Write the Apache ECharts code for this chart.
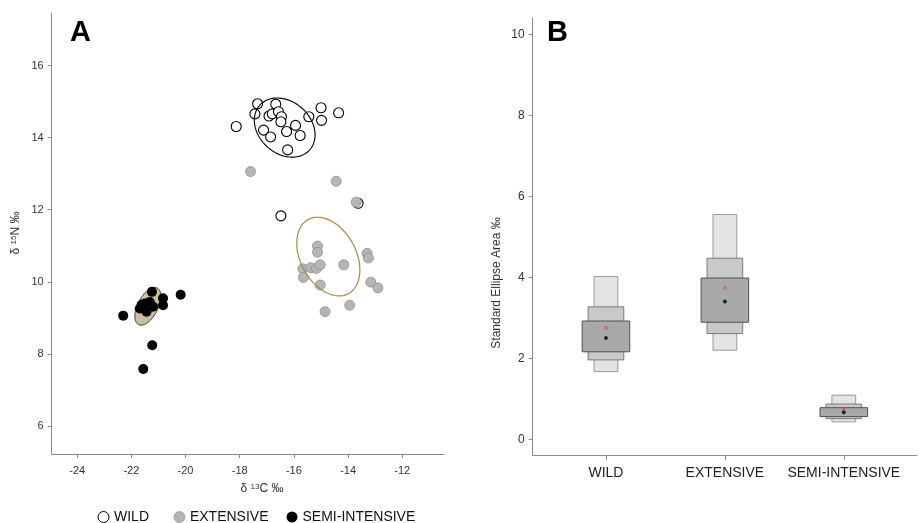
<!DOCTYPE html>
<html>
<head>
<meta charset="utf-8">
<script src="https://cdn.jsdelivr.net/npm/echarts@6/dist/echarts.min.js"></script>
<style>
html,body{margin:0;padding:0;background:#fff;}
#chart{width:919px;height:523px;}
</style>
</head>
<body>
<div id="chart"></div>
<script>
// ---------- Panel A data (δ13C, δ15N) ----------
var wildC = [-18.13,-17.34,-17.44,-16.92,-16.80,-16.67,-16.57,-16.46,-16.48,-17.12,-16.86,-16.27,-15.94,-15.77,-16.23,-15.45,-15.00,-14.98,-14.35,-16.48,-13.63];
var wildN = [14.31,14.94,14.66,14.60,14.66,14.93,14.72,14.58,14.44,14.21,14.02,14.17,14.34,14.06,13.66,14.58,14.83,14.48,14.69,11.83,12.18];
var extC  = [-17.60,-14.44,-13.70,-15.13,-15.13,-15.67,-15.65,-15.38,-15.17,-15.03,-14.16,-15.03,-14.85,-13.94,-13.30,-13.25,-13.16,-12.90];
var extN  = [13.06,12.79,12.21,10.99,10.82,10.36,10.12,10.39,10.37,10.47,10.47,9.91,9.17,9.35,10.79,10.66,9.99,9.83];
var semiC = [-22.30,-21.24,-20.18,-21.23,-21.56,-21.69,-21.50,-21.32,-21.44,-21.20,-20.83,-20.83,-21.62,-21.40];
var semiN = [9.06,9.72,9.64,8.24,7.58,9.26,9.40,9.44,9.17,9.31,9.54,9.35,9.36,9.30];
// standard ellipses: [mean C, mean N, var C, cov CN, var N]
var wildEllipse = [-16.34, 14.28, 1.257, -0.228, 0.674];
var extEllipse  = [-14.73, 10.70, 1.356, -0.434, 1.192];
var semiEllipse = [-21.39, 9.32, 0.231, 0.132, 0.274];
var xTicksA = [-24,-22,-20,-18,-16,-14,-12];
var yTicksA = [6,8,10,12,14,16];

// ---------- Panel B data (SEA credible intervals) ----------
var groups = ['WILD','EXTENSIVE','SEMI-INTENSIVE'];
var ci95Low  = [1.67, 2.20, 0.43];
var ci95High = [4.02, 5.55, 1.09];
var ci75Low  = [1.96, 2.61, 0.51];
var ci75High = [3.27, 4.47, 0.87];
var ci50Low  = [2.16, 2.89, 0.56];
var ci50High = [2.92, 3.98, 0.78];
var seaMode  = [2.50, 3.40, 0.67];
var seaC     = [2.75, 3.74, 0.74];
var yTicksB  = [0,2,4,6,8,10];

var FONT = 'Liberation Sans, Arial, sans-serif';
var AXIS_COLOR = '#8a8a8a';

function zip(a,b){ return a.map(function(v,i){ return [v,b[i]]; }); }

function ellipseRender(fill, stroke, lw){
  return function(params, api){
    var cx = api.value(0), cy = api.value(1), sxx = api.value(2), sxy = api.value(3), syy = api.value(4);
    var l11 = Math.sqrt(sxx), l21 = sxy / l11, l22 = Math.sqrt(syy - l21*l21);
    var pts = [];
    for (var k = 0; k < 120; k++){
      var t = k / 120 * Math.PI * 2;
      var c = Math.cos(t), s = Math.sin(t);
      pts.push(api.coord([cx + l11*c, cy + l21*c + l22*s]));
    }
    return {type:'polygon', shape:{points:pts}, style:{fill:fill, stroke:stroke, lineWidth:lw}};
  };
}

var boxData = groups.map(function(g,i){
  return [i+1, ci95Low[i], ci95High[i], ci75Low[i], ci75High[i], ci50Low[i], ci50High[i]];
});

function boxRender(params, api){
  var x = api.value(0);
  var defs = [
    {lo:1, hi:2, w:0.2, fill:'#e3e3e3', stroke:'#9a9a9a'},
    {lo:3, hi:4, w:0.3, fill:'#c9c9c9', stroke:'#7a7a7a'},
    {lo:5, hi:6, w:0.4, fill:'#a9a9a9', stroke:'#505050'}
  ];
  var children = defs.map(function(d){
    var p1 = api.coord([x - d.w/2, api.value(d.hi)]);
    var p2 = api.coord([x + d.w/2, api.value(d.lo)]);
    return {type:'rect', shape:{x:p1[0], y:p1[1], width:p2[0]-p1[0], height:p2[1]-p1[1]},
            style:{fill:d.fill, stroke:d.stroke, lineWidth:1}};
  });
  return {type:'group', children:children};
}

var chart = echarts.init(document.getElementById('chart'), null, {renderer:'canvas'});

var legendBase = {top:505, itemWidth:11, itemHeight:11, selectedMode:false,
  textStyle:{fontSize:14, color:'#111', fontFamily:FONT}};
function legendAt(left, item){
  return Object.assign({}, legendBase, {left:left, data:[item]});
}

var option = {
  backgroundColor:'#fff',
  animation:false,
  textStyle:{fontFamily:FONT},
  grid:[
    {left:51.7, top:13, width:392.3, height:441},
    {left:532.7, top:18, width:384, height:437.7}
  ],
  xAxis:[
    {type:'value', gridIndex:0, min:-24.94, max:-10.46, splitLine:{show:false},
     axisLine:{show:true, onZero:false, lineStyle:{color:AXIS_COLOR}},
     axisTick:{show:true, length:4, customValues:xTicksA, lineStyle:{color:AXIS_COLOR}},
     axisLabel:{customValues:xTicksA, fontSize:11, color:'#333', margin:11, fontFamily:FONT}},
    {type:'value', gridIndex:1, min:0.384, max:3.613, splitLine:{show:false},
     axisLine:{show:true, onZero:false, lineStyle:{color:AXIS_COLOR}},
     axisTick:{show:true, length:4, customValues:[1,2,3], lineStyle:{color:AXIS_COLOR}},
     axisLabel:{customValues:[1,2,3], fontSize:14, color:'#222', margin:10, fontFamily:FONT,
       formatter:function(v){ return groups[Math.round(v)-1] || ''; }}}
  ],
  yAxis:[
    {type:'value', gridIndex:0, min:5.22, max:17.46, splitLine:{show:false},
     axisLine:{show:true, onZero:false, lineStyle:{color:AXIS_COLOR}},
     axisTick:{show:true, length:4, customValues:yTicksA, lineStyle:{color:AXIS_COLOR}},
     axisLabel:{customValues:yTicksA, fontSize:11, color:'#333', margin:8, fontFamily:FONT}},
    {type:'value', gridIndex:1, min:-0.405, max:10.4, splitLine:{show:false},
     axisLine:{show:true, onZero:false, lineStyle:{color:AXIS_COLOR}},
     axisTick:{show:true, length:4, customValues:yTicksB, lineStyle:{color:AXIS_COLOR}},
     axisLabel:{customValues:yTicksB, fontSize:12, color:'#333', margin:8, fontFamily:FONT}}
  ],
  legend:[
    legendAt(92.5, {name:'WILD', icon:'circle', itemStyle:{color:'#fff', borderColor:'#000', borderWidth:1}}),
    legendAt(168.5, {name:'EXTENSIVE', icon:'circle', itemStyle:{color:'#b5b5b5', borderColor:'#999', borderWidth:0.8}}),
    legendAt(281.5, {name:'SEMI-INTENSIVE', icon:'circle', itemStyle:{color:'#000', borderColor:'#000', borderWidth:0}})
  ],
  graphic:[
    {type:'text', left:70, top:18, style:{text:'A', fontSize:29, fontWeight:'bold', fill:'#000', fontFamily:FONT}},
    {type:'text', left:547, top:18, style:{text:'B', fontSize:29, fontWeight:'bold', fill:'#000', fontFamily:FONT}},
    {type:'text', x:262, y:489, style:{text:'δ {s|13}C ‰', align:'center', verticalAlign:'middle', fontSize:12, fill:'#333', fontFamily:FONT,
      rich:{s:{fontSize:8, verticalAlign:'top', fill:'#333', fontFamily:FONT}}}},
    {type:'text', x:16, y:233, rotation:Math.PI/2, style:{text:'δ {s|15}N ‰', align:'center', verticalAlign:'middle', fontSize:12, fill:'#333', fontFamily:FONT,
      rich:{s:{fontSize:8, verticalAlign:'top', fill:'#333', fontFamily:FONT}}}},
    {type:'text', x:497, y:283, rotation:Math.PI/2, style:{text:'Standard Ellipse Area ‰', align:'center', verticalAlign:'middle', fontSize:12, fill:'#333', fontFamily:FONT}}
  ],
  series:[
    {type:'custom', name:'semiEll', xAxisIndex:0, yAxisIndex:0, data:[semiEllipse], renderItem:ellipseRender('#cbbd9c','#333',1), silent:true, z:1},
    {type:'scatter', name:'WILD', xAxisIndex:0, yAxisIndex:0, data:zip(wildC,wildN), symbol:'circle', symbolSize:10,
     itemStyle:{color:'#fff', borderColor:'#000', borderWidth:1.1, opacity:1}, z:2},
    {type:'scatter', name:'EXTENSIVE', xAxisIndex:0, yAxisIndex:0, data:zip(extC,extN), symbol:'circle', symbolSize:10,
     itemStyle:{color:'#b5b5b5', borderColor:'#8f8f8f', borderWidth:0.8, opacity:1}, z:3},
    {type:'custom', name:'wildEll', xAxisIndex:0, yAxisIndex:0, data:[wildEllipse], renderItem:ellipseRender('none','#111',1.2), silent:true, z:4},
    {type:'custom', name:'extEll', xAxisIndex:0, yAxisIndex:0, data:[extEllipse], renderItem:ellipseRender('none','#a58d3e',1.2), silent:true, z:4},
    {type:'scatter', name:'SEMI-INTENSIVE', xAxisIndex:0, yAxisIndex:0, data:zip(semiC,semiN), symbol:'circle', symbolSize:10,
     itemStyle:{color:'#000', borderWidth:0, opacity:1}, z:5},
    {type:'custom', name:'boxes', xAxisIndex:1, yAxisIndex:1, data:boxData, renderItem:boxRender, silent:true, z:2},
    {type:'scatter', name:'mode', xAxisIndex:1, yAxisIndex:1, data:seaMode.map(function(v,i){return [i+1,v];}),
     symbol:'circle', symbolSize:4, itemStyle:{color:'#000'}, z:6},
    {type:'scatter', name:'SEAc', xAxisIndex:1, yAxisIndex:1, data:seaC.map(function(v,i){return [i+1,v];}),
     symbol:'path://M0,0L10,10M10,0L0,10', symbolSize:3.5, itemStyle:{color:'none', borderColor:'#e4343c', borderWidth:1}, z:6}
  ]
};
chart.setOption(option);
</script>
</body>
</html>
